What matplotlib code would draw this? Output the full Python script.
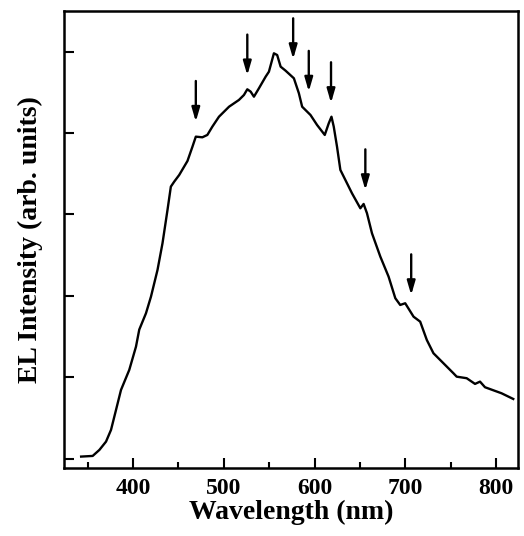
import numpy as np
import matplotlib.pyplot as plt
from matplotlib.ticker import MultipleLocator, NullFormatter

# EL spectrum (wavelength in nm, intensity in arb. units)
wavelength = [342.9, 355.6, 363.0, 370.3, 375.8, 381.3, 386.8, 395.9, 403.3, 406.9,
              414.3, 419.8, 427.0, 432.5, 438.0, 441.7, 445.4, 450.9, 460.0, 465.5,
              469.2, 476.4, 481.9, 487.4, 494.7, 505.8, 516.7, 522.2, 525.9, 529.6,
              533.2, 538.7, 546.1, 549.7, 555.2, 558.8, 562.6, 568.0, 577.2, 582.7,
              586.3, 595.5, 602.7, 611.2, 615.6, 618.6, 621.1, 624.7, 628.4, 633.9,
              641.2, 650.4, 654.0, 657.7, 663.2, 672.4, 681.5, 688.9, 694.3, 699.8,
              709.0, 716.3, 723.6, 730.9, 741.9, 752.9, 756.5, 767.5, 776.7, 782.2,
              787.7, 805.9, 818.8]
intensity = [0.025, 0.033, 0.107, 0.209, 0.353, 0.598, 0.844, 1.090, 1.376, 1.585,
             1.786, 1.990, 2.318, 2.646, 3.055, 3.342, 3.403, 3.485, 3.657, 3.833,
             3.956, 3.948, 3.977, 4.079, 4.201, 4.324, 4.407, 4.468, 4.538, 4.509,
             4.447, 4.550, 4.693, 4.754, 4.980, 4.959, 4.816, 4.767, 4.673, 4.489,
             4.324, 4.222, 4.100, 3.977, 4.120, 4.201, 4.079, 3.833, 3.547, 3.424,
             3.260, 3.076, 3.129, 3.015, 2.769, 2.482, 2.236, 1.971, 1.888, 1.909,
             1.744, 1.683, 1.458, 1.295, 1.172, 1.049, 1.007, 0.988, 0.918, 0.946,
             0.877, 0.803, 0.733]

# arrows marking the features (x position, tip height)
arrow_nm = [469.2, 525.9, 576.4, 593.6, 618.1, 655.9, 706.4]
arrow_tip = [4.14, 4.71, 4.91, 4.51, 4.37, 3.30, 2.01]

plt.rcParams['font.family'] = 'Liberation Serif'
plt.rcParams['font.weight'] = 'bold'

fig = plt.figure(figsize=(5.24, 5.36), dpi=100)
ax = fig.add_axes([0.1221, 0.1269, 0.8664, 0.8526])

ax.plot(wavelength, intensity, color='black', lw=1.7, solid_joinstyle='round')

for x, tip in zip(arrow_nm, arrow_tip):
    ax.annotate('', xy=(x, tip), xytext=(x, tip + 0.5),
                arrowprops=dict(arrowstyle='-|>,head_width=0.16,head_length=0.55',
                                color='black', lw=1.7,
                                mutation_scale=15, shrinkA=0, shrinkB=0))

ax.set_xlim(324, 824)
ax.set_ylim(-0.115, 5.5)
ax.xaxis.set_major_locator(MultipleLocator(100))
ax.xaxis.set_minor_locator(MultipleLocator(50))
ax.yaxis.set_major_locator(MultipleLocator(1))
ax.yaxis.set_major_formatter(NullFormatter())

ax.tick_params(axis='both', which='major', direction='in', length=7, width=1.5,
               labelsize=17, pad=7)
ax.tick_params(axis='x', which='minor', direction='in', length=4, width=1.5)
ax.tick_params(axis='y', right=False)
for lbl in ax.get_xticklabels():
    lbl.set_fontweight('bold')

for sp in ax.spines.values():
    sp.set_linewidth(1.8)

ax.set_xlabel('Wavelength (nm)', fontsize=20, fontweight='bold', labelpad=1)
ax.set_ylabel('EL Intensity (arb. units)', fontsize=20, fontweight='bold', labelpad=8)

fig.savefig('out.png', dpi=100)
